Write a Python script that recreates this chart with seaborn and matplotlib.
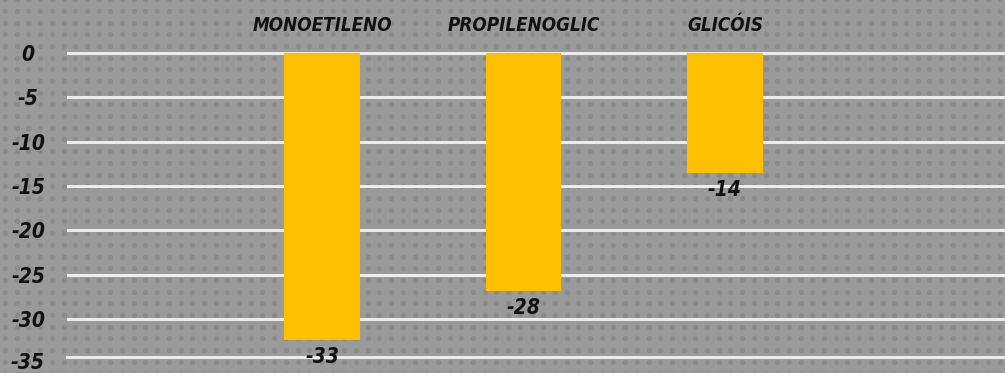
import numpy as np
import matplotlib
matplotlib.use("Agg")
import matplotlib.pyplot as plt
import seaborn as sns

# ---- data ----
categories = ["MONOETILENO", "PROPILENOGLIC", "GLICÓIS"]
values = [-32.4, -26.9, -13.5]
value_labels = ["-33", "-28", "-14"]
y_ticks = [0, -5, -10, -15, -20, -25, -30]
y_tick_labels = ["0", "-5", "-10", "-15", "-20", "-25", "-30"]
extra_tick = -35
extra_tick_label = "-35"

sns.set_theme(style="white")
plt.rcParams["font.family"] = ["DejaVu Sans"]

W, H = 1005, 373
fig = plt.figure(figsize=(W / 100, H / 100), dpi=100)
fig.patch.set_facecolor("#9a9a9a")

# dotted background texture
bg = fig.add_axes([0, 0, 1, 1], zorder=-5)
bg.set_xlim(0, W)
bg.set_ylim(H, 0)
bg.axis("off")
gx, gy = np.meshgrid(np.arange(5.1, W + 12, 11.7), np.arange(-0.9, H + 12, 11.7))
bg.scatter(gx.ravel(), gy.ravel(), s=15, color="#8b8b8b", linewidths=0)

# main axes
top_px, bot_px, left_px = 52, 357, 67
ax = fig.add_axes([left_px / W, (H - bot_px) / H, (W - left_px) / W, (bot_px - top_px) / H])
ax.patch.set_alpha(0)

sns.barplot(x=categories, y=values, color="#FFC000", width=0.377, saturation=1,
            ax=ax, zorder=3, errorbar=None, linewidth=0, edgecolor="none")

ax.set_ylim(-34.3, 0.12)
ax.set_xlim(-1.266, 3.39)
ax.set_yticks(y_ticks)
ax.set_yticklabels(y_tick_labels)
ax.yaxis.grid(True, color="#ececec", linewidth=2.2)
ax.xaxis.grid(False)
ax.set_axisbelow(True)
for s in ["top", "left", "right"]:
    ax.spines[s].set_visible(False)
ax.spines["bottom"].set_color("#ececec")
ax.spines["bottom"].set_linewidth(2.2)
ax.set_xlabel("")
ax.set_ylabel("")

cat_kw = dict(fontsize=13.5, fontweight="bold", fontstyle="italic",
              fontstretch="condensed", color="#111111")
num_kw = dict(cat_kw, fontsize=15)

ax.tick_params(axis="y", length=0, pad=28)
for lab in ax.get_yticklabels():
    lab.set_ha("center")
    lab.set(**num_kw)
ax.text(-(left_px - 28) / (W - left_px), extra_tick, extra_tick_label,
        transform=ax.get_yaxis_transform(), ha="center", va="center",
        clip_on=False, **num_kw)

ax.xaxis.tick_top()
ax.tick_params(axis="x", length=0, pad=12)
for lab in ax.get_xticklabels():
    lab.set(**cat_kw)

for i, (v, lab) in enumerate(zip(values, value_labels)):
    ax.annotate(lab, (i, v), xytext=(0, -5), textcoords="offset points",
                ha="center", va="top", annotation_clip=False, **num_kw)

fig.savefig("out.png", dpi=100, facecolor=fig.get_facecolor())
